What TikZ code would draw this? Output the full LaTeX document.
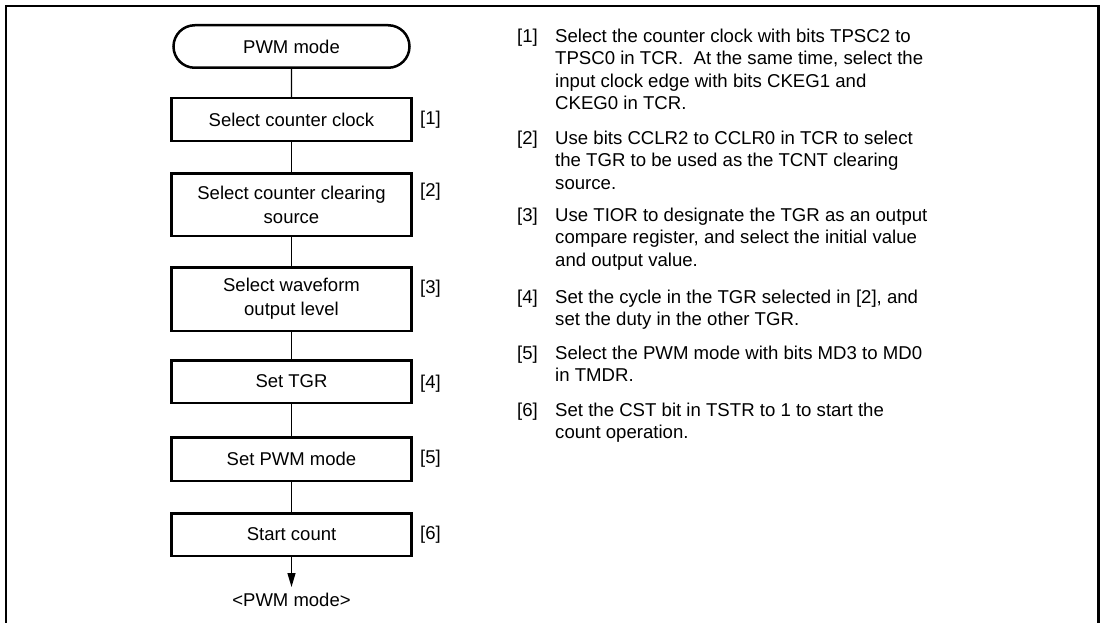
\documentclass[tikz,border=0pt]{standalone}
\usepackage{fontspec}
\setmainfont{Liberation Sans}
\usetikzlibrary{arrows.meta,shapes.misc}

\tikzset{
  stepbox/.style={draw,line width=2.5pt,minimum width=240pt,minimum height=42.5pt,
    align=center,inner sep=2pt,font=\fontsize{18.5}{24}\selectfont},
  startbox/.style={stepbox,rounded rectangle},
  tag/.style={anchor=west,inner sep=0pt,font=\fontsize{18.5}{24}\selectfont},
  note/.style={anchor=north west,inner sep=0pt,align=left,font=\fontsize{18.6}{22.5}\selectfont},
  link/.style={line width=1.3pt},
}

\begin{document}
\begin{tikzpicture}[x=1pt,y=-1pt]
\useasboundingbox (0,0) rectangle (1102,623);
\draw[line width=2.8pt] (6,623) -- (6,6) -- (1098.5,6) -- (1098.5,623);

% flow chart
\node[startbox] (start) at (291.5,46.5) {PWM mode};
\node[stepbox] (s1) at (291.5,119.5) {Select counter clock};
\node[stepbox,minimum height=62.5pt] (s2) at (291.5,204.5) {Select counter clearing\\source};
\node[stepbox,minimum height=63.5pt] (s3) at (291.5,299) {Select waveform\\output level};
\node[stepbox] (s4) at (291.5,381.5) {Set TGR};
\node[stepbox,minimum height=43.5pt] (s5) at (291.5,459) {Set PWM mode};
\node[stepbox] (s6) at (291.5,534.5) {Start count};
\node[inner sep=6pt,font=\fontsize{18.5}{24}\selectfont] (end) at (291.5,600) {<PWM mode>};

\draw[link] (start) -- (s1);
\draw[link] (s1) -- (s2);
\draw[link] (s2) -- (s3);
\draw[link] (s3) -- (s4);
\draw[link] (s4) -- (s5);
\draw[link] (s5) -- (s6);
\draw[link,-{Triangle[length=14pt,width=8pt]}] (s6) -- (end);

\node[tag] (k1) at (420,119.5) {[1]};
\node[tag] (k2) at (420,192) {[2]};
\node[tag] (k3) at (420,289) {[3]};
\node[tag] (k4) at (420,384) {[4]};
\node[tag] (k5) at (420,459) {[5]};
\node[tag] (k6) at (420,535) {[6]};

% notes
\node[note] (n1) at (517,28.4) {[1]};
\node[note] (t1) at (555,28.4) {Select the counter clock with bits TPSC2 to\\TPSC0 in TCR.\ \ At the same time, select the\\input clock edge with bits CKEG1 and\\CKEG0 in TCR.};
\node[note] (n2) at (517,130.4) {[2]};
\node[note] (t2) at (555,130.4) {Use bits CCLR2 to CCLR0 in TCR to select\\the TGR to be used as the TCNT clearing\\source.};
\node[note] (n3) at (517,207.4) {[3]};
\node[note] (t3) at (555,207.4) {Use TIOR to designate the TGR as an output\\compare register, and select the initial value\\and output value.};
\node[note] (n4) at (517,289.4) {[4]};
\node[note] (t4) at (555,289.4) {Set the cycle in the TGR selected in [2], and\\set the duty in the other TGR.};
\node[note] (n5) at (517,345.4) {[5]};
\node[note] (t5) at (555,345.4) {Select the PWM mode with bits MD3 to MD0\\in TMDR.};
\node[note] (n6) at (517,402.4) {[6]};
\node[note] (t6) at (555,402.4) {Set the CST bit in TSTR to 1 to start the\\count operation.};
\end{tikzpicture}
\end{document}
